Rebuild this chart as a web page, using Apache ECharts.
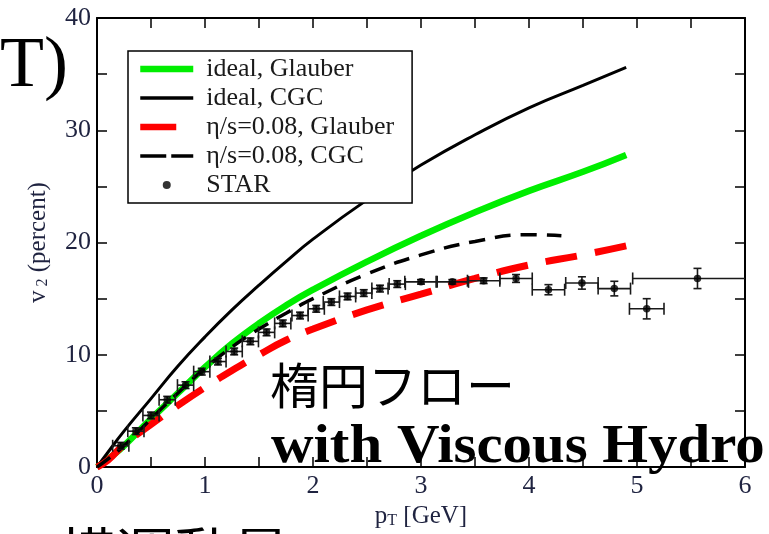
<!DOCTYPE html>
<html>
<head>
<meta charset="utf-8">
<script src="https://cdn.jsdelivr.net/npm/echarts@6/dist/echarts.min.js"></script>
<style>
  html, body { margin: 0; padding: 0; background: #fff; }
  #chart { width: 769px; height: 534px; }
</style>
</head>
<body>
<div id="chart"></div>
<script>
// model curves (pT in GeV, v2 in percent)
const curveX = [0, 0.1, 0.25, 0.5, 0.75, 1, 1.25, 1.5, 1.75, 2, 2.5, 3, 3.5, 4, 4.5, 4.9];
const idealGlauber = [0, 0.7, 1.9, 4.3, 6.6, 8.9, 11.0, 12.8, 14.4, 15.8, 18.3, 20.6, 22.7, 24.6, 26.3, 27.8];
const idealCGC = [0, 1.3, 3.2, 6.1, 9.0, 11.6, 14.0, 16.2, 18.3, 20.3, 23.8, 26.9, 29.6, 32.0, 34.0, 35.6];
const viscGlauber = [0, 0.6, 2.0, 3.8, 5.5, 7.1, 8.6, 10.0, 11.3, 12.3, 14.0, 15.4, 16.8, 18.0, 18.9, 19.7];
const viscCGCX = [0, 0.1, 0.25, 0.5, 0.75, 1, 1.25, 1.5, 1.75, 2, 2.5, 3, 3.5, 4, 4.3];
const viscCGC = [0, 0.7, 1.9, 4.3, 6.6, 8.8, 10.7, 12.3, 13.7, 15.0, 17.2, 18.9, 20.1, 20.7, 20.6];

// STAR data with errors
const starX = [0.22, 0.36, 0.5, 0.65, 0.82, 0.97, 1.12, 1.27, 1.42, 1.57, 1.72, 1.88, 2.03, 2.17, 2.32, 2.47, 2.62, 2.78, 3.0, 3.29, 3.58, 3.88, 4.18, 4.49, 4.79, 5.09, 5.56];
const starY = [1.9, 3.2, 4.6, 6.0, 7.3, 8.5, 9.4, 10.3, 11.2, 12.0, 12.8, 13.5, 14.1, 14.7, 15.2, 15.5, 15.9, 16.3, 16.5, 16.5, 16.6, 16.8, 15.8, 16.4, 15.9, 14.1, 16.8];
const starXErr = [0.075, 0.075, 0.075, 0.075, 0.075, 0.075, 0.075, 0.075, 0.075, 0.075, 0.075, 0.075, 0.075, 0.075, 0.075, 0.075, 0.075, 0.075, 0.15, 0.15, 0.15, 0.15, 0.15, 0.15, 0.15, 0.16, 0.6];
const starYErr = [0.3, 0.3, 0.3, 0.3, 0.3, 0.3, 0.3, 0.3, 0.3, 0.3, 0.3, 0.3, 0.3, 0.3, 0.3, 0.3, 0.3, 0.3, 0.2, 0.2, 0.25, 0.35, 0.45, 0.55, 0.65, 0.9, 0.9];

const xTicks = [0, 6, 1];   // min, max, step
const yTicks = [0, 40, 10];

const legendNames = ['ideal, Glauber', 'ideal, CGC', 'η/s=0.08, Glauber', 'η/s=0.08, CGC', 'STAR'];

const serif = '"Liberation Serif", "DejaVu Serif", serif';
const labelColor = '#1f2340';

function zip(xs, ys) {
  return xs.map((x, i) => [x, ys[i]]);
}

let chart = echarts.init(document.getElementById('chart'));

function axisCommon(show) {
  return {
    type: 'value',
    axisLine: { show: true, onZero: false, lineStyle: { color: '#000', width: 2 } },
    axisTick: { show: true, inside: true, length: 10, lineStyle: { color: '#000', width: 1.5 } },
    minorTick: { show: true, splitNumber: 2, length: 10, lineStyle: { color: '#000', width: 1.5 } },
    splitLine: { show: false },
    axisLabel: { show: show, fontFamily: serif, fontSize: 26, color: labelColor, margin: 6 }
  };
}

const nameRich = {
  i: { fontFamily: serif, fontSize: 25, color: labelColor, verticalAlign: 'bottom', lineHeight: 26 },
  s: { fontFamily: serif, fontSize: 16, color: labelColor, verticalAlign: 'bottom', lineHeight: 14 }
};

let option = {
  backgroundColor: '#fff',
  animation: false,
  grid: { left: 97, right: 24, top: 18, bottom: 61 },
  xAxis: [
    Object.assign(axisCommon(true), {
      min: xTicks[0], max: xTicks[1], interval: xTicks[2], position: 'bottom',
      name: '{i|p}{s|T}{i| [GeV]}',
      nameLocation: 'middle',
      nameGap: 32,
      nameTextStyle: { rich: nameRich }
    }),
    Object.assign(axisCommon(false), {
      min: xTicks[0], max: xTicks[1], interval: xTicks[2], position: 'top'
    })
  ],
  yAxis: [
    Object.assign(axisCommon(true), {
      min: yTicks[0], max: yTicks[1], interval: yTicks[2], position: 'left',
      name: '{i|v}{s| 2}{i| (percent)}',
      nameLocation: 'middle',
      nameRotate: 90,
      nameGap: 46,
      nameTextStyle: { rich: nameRich }
    }),
    Object.assign(axisCommon(false), {
      min: yTicks[0], max: yTicks[1], interval: yTicks[2], position: 'right'
    })
  ],
  legend: {
    orient: 'vertical',
    left: 128,
    top: 51,
    padding: [5, 18, 5, 9],
    itemWidth: 53,
    itemHeight: 8,
    itemGap: 3,
    backgroundColor: '#fff',
    borderColor: '#000',
    borderWidth: 1.5,
    borderRadius: 0,
    selectedMode: false,
    textStyle: { fontFamily: serif, fontSize: 26, lineHeight: 26, color: '#1a1a1a', padding: [0, 0, 0, 8] },
    data: [
      { name: legendNames[0], itemStyle: { opacity: 0 }, lineStyle: { width: 6.5 } },
      { name: legendNames[1], itemStyle: { opacity: 0 }, lineStyle: { width: 3.5 } },
      { name: legendNames[2], itemStyle: { opacity: 0 }, lineStyle: { width: 6.5, type: [36, 20] } },
      { name: legendNames[3], itemStyle: { opacity: 0 }, lineStyle: { width: 3.5, type: [26, 5] } },
      { name: legendNames[4], icon: 'circle' }
    ]
  },
  graphic: [
    {
      type: 'text', left: 0, top: 31, z: 100,
      style: { text: 'T)', font: '72px "Liberation Serif"', fill: '#000' }
    },
    {
      type: 'text', left: 270, top: 361, z: 100,
      style: { text: '楕円フロー', font: '49px "Noto Sans CJK JP"', fill: '#000' }
    },
    {
      type: 'text', left: 271, top: 420, z: 100, scaleX: 1.07,
      style: { text: 'with Viscous Hydro', font: 'bold 55px "Liberation Serif"', fill: '#000' }
    },
    {
      type: 'text', left: 58, top: 525, z: 100,
      style: { text: '横運動量', font: '58px "Noto Sans CJK JP"', fill: '#000' }
    }
  ],
  series: [
    {
      name: legendNames[0], type: 'line', smooth: true, symbol: 'none', z: 3,
      lineStyle: { color: '#00ee00', width: 6.5 },
      itemStyle: { color: '#00ee00' },
      data: zip(curveX, idealGlauber)
    },
    {
      name: legendNames[1], type: 'line', smooth: true, symbol: 'none', z: 3,
      lineStyle: { color: '#000', width: 3 },
      itemStyle: { color: '#000' },
      data: zip(curveX, idealCGC)
    },
    {
      name: legendNames[2], type: 'line', smooth: true, symbol: 'none', z: 3,
      lineStyle: { color: '#ff0000', width: 7, type: [32, 18], cap: 'butt' },
      itemStyle: { color: '#ff0000' },
      data: zip(curveX, viscGlauber)
    },
    {
      name: legendNames[3], type: 'line', smooth: true, symbol: 'none', z: 3,
      lineStyle: { color: '#000', width: 3.5, type: [16, 10], cap: 'butt' },
      itemStyle: { color: '#000' },
      data: zip(viscCGCX, viscCGC)
    },
    {
      name: 'STAR errors', type: 'custom', clip: true, z: 4,
      data: starX.map((x, i) => [x, starY[i], starXErr[i], starYErr[i]]),
      renderItem: function (params, api) {
        let x = api.value(0), y = api.value(1), dx = api.value(2), dy = api.value(3);
        let l = api.coord([x - dx, y]);
        let r = api.coord([x + dx, y]);
        let t = api.coord([x, y + dy]);
        let b = api.coord([x, y - dy]);
        let cap = 6, ycap = 4;
        let st = { stroke: '#1a1a1a', lineWidth: 1.6 };
        return {
          type: 'group',
          children: [
            { type: 'line', shape: { x1: l[0], y1: l[1], x2: r[0], y2: r[1] }, style: st },
            { type: 'line', shape: { x1: l[0], y1: l[1] - cap, x2: l[0], y2: l[1] + cap }, style: st },
            { type: 'line', shape: { x1: r[0], y1: r[1] - cap, x2: r[0], y2: r[1] + cap }, style: st },
            { type: 'line', shape: { x1: t[0], y1: t[1], x2: b[0], y2: b[1] }, style: st },
            { type: 'line', shape: { x1: t[0] - ycap, y1: t[1], x2: t[0] + ycap, y2: t[1] }, style: st },
            { type: 'line', shape: { x1: b[0] - ycap, y1: b[1], x2: b[0] + ycap, y2: b[1] }, style: st }
          ]
        };
      }
    },
    {
      name: legendNames[4], type: 'scatter', symbol: 'circle', symbolSize: 7.5, z: 5,
      itemStyle: { color: '#000' },
      data: zip(starX, starY)
    }
  ]
};

chart.setOption(option);
</script>
</body>
</html>
